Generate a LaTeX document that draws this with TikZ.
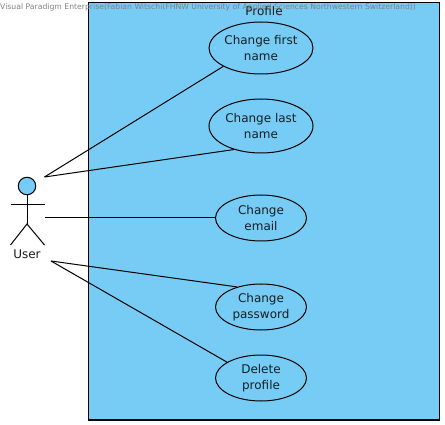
\documentclass[tikz,border=0pt]{standalone}
\usepackage{fontspec}
\setmainfont{DejaVu Sans}
\usetikzlibrary{shapes.geometric}
\definecolor{vpblue}{HTML}{77CCF5}
\tikzset{
  case/.style={ellipse,draw=black,line width=1pt,inner sep=0pt,align=center,font=\fontsize{12}{16}\selectfont,text=black!85!vpblue},
  limb/.style={draw=black,line width=1pt},
  link/.style={draw=black,line width=1pt},
}
\begin{document}
\begin{tikzpicture}[x=1pt,y=-1pt]
\useasboundingbox (0,0) rectangle (445,425);
\node[draw=black,line width=1.2pt,fill=vpblue,minimum width=351pt,minimum height=417.5pt,inner sep=0pt] (sys) at (264,211.25) {};
\node[font=\fontsize{12}{14}\selectfont,text=black!90] (systitle) at (264,11.5) {Profile};
\node[font=\fontsize{7.7}{10}\selectfont,text=black!50,anchor=west,inner sep=0pt] (wm) at (0,7.5) {Visual Paradigm Enterprise(Fabian Witschi(FHNW University of Applied Sciences Northwestern Switzerland))};
\node[case,minimum width=104pt,minimum height=52pt] (e1) at (261,48) {Change first\\name};
\node[case,minimum width=104pt,minimum height=54pt] (e2) at (261,126) {Change last\\name};
\node[case,minimum width=91pt,minimum height=46pt] (e3) at (261,218) {Change\\email};
\node[case,minimum width=91pt,minimum height=46pt] (e4) at (261,307) {Change\\password};
\node[case,minimum width=91pt,minimum height=46pt] (e5) at (261,378) {Delete\\profile};
% actor
\node[circle,draw=black,line width=1pt,fill=vpblue,minimum size=17.5pt,inner sep=0pt] (head) at (27,186) {};
\coordinate (hip) at (27,224);
\coordinate (armL) at (10.5,205);
\coordinate (armR) at (44.5,205);
\coordinate (footL) at (10.5,245);
\coordinate (footR) at (44.5,245);
\draw[limb] (head.south) -- (hip);
\draw[limb] (armL) -- (armR);
\draw[limb] (footL) -- (hip) -- (footR);
\node[font=\fontsize{12}{14}\selectfont,text=black!90] (user) at (27,254) {User};
\coordinate (a1) at (44.5,177);
\coordinate (a2) at (44.5,218);
\coordinate (a3) at (51,261);
\draw[link] (a1) -- (e1.206);
\draw[link] (a1) -- (e2.221.6);
\draw[link] (a2) -- (e3.180);
\draw[link] (a3) -- (e4.140);
\draw[link] (a3) -- (e5.155);
\end{tikzpicture}
\end{document}
